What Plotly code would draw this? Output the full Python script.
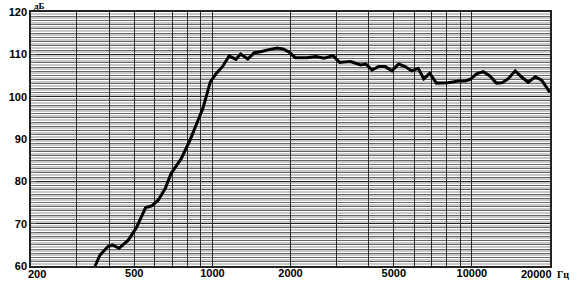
import numpy as np
import plotly.graph_objects as go

# frequency response
freq_hz = [353, 369, 396, 412, 437, 474, 510, 553, 584, 619, 658, 694, 759, 821,
           920, 982, 1035, 1097, 1160, 1232, 1285, 1369, 1450, 1533, 1620, 1771,
           1870, 1969, 2087, 2320, 2500, 2694, 2917, 3092, 3405, 3722, 3907, 4121,
           4371, 4635, 4920, 5219, 5530, 5860, 6210, 6530, 6880, 7300, 8110, 8870,
           9410, 9840, 10430, 11060, 11730, 12430, 13070, 13780, 14700, 15510,
           16470, 17570, 18560, 20000]
level_db = [60.0, 62.6, 64.6, 65.0, 64.2, 66.1, 69.1, 73.8, 74.2, 75.6, 78.3, 81.9,
            85.4, 89.8, 97.3, 103.5, 105.5, 107.2, 109.6, 108.8, 110.1, 108.9,
            110.4, 110.6, 111.0, 111.5, 111.3, 110.6, 109.2, 109.2, 109.5, 109.1,
            109.7, 108.1, 108.3, 107.5, 107.7, 106.3, 107.1, 107.1, 106.1, 107.7,
            107.1, 106.1, 106.7, 104.2, 105.5, 103.2, 103.3, 103.7, 103.7, 104.1,
            105.4, 105.9, 104.9, 103.2, 103.3, 104.2, 106.1, 104.7, 103.4, 104.7,
            103.9, 101.0]

x_ticks = [500, 1000, 2000, 5000, 10000]
x_grid = [300, 400, 500, 600, 700, 800, 900, 1000, 2000, 3000, 4000, 5000,
          6000, 7000, 8000, 9000, 10000]
y_ticks = [60, 70, 80, 90, 100, 110, 120]

X_MIN, X_MAX = 200, 20000
Y_MIN, Y_MAX = 60, 120
X_RANGE = [np.log10(X_MIN), np.log10(X_MAX)]

LABEL_FONT = dict(family="Liberation Sans, Arial, sans-serif", size=11, color="black")
UNIT_FONT = dict(family="Liberation Serif, Times New Roman, serif", size=10, color="black")

fig = go.Figure()

# dummy traces so the overlay axes (light half-dB bands, vertical grid) get drawn
fig.add_trace(go.Scatter(x=[X_MIN], y=[Y_MIN], xaxis="x", yaxis="y2", mode="markers",
                         marker=dict(opacity=0), hoverinfo="skip", showlegend=False))
fig.add_trace(go.Scatter(x=[X_MIN], y=[Y_MIN], xaxis="x2", yaxis="y3", mode="markers",
                         marker=dict(opacity=0), hoverinfo="skip", showlegend=False))

fig.add_trace(go.Scatter(
    x=freq_hz, y=level_db, mode="lines",
    line=dict(color="black", width=3),
    showlegend=False,
))

# units
fig.add_annotation(xref="paper", yref="paper", x=0.002, y=1.024,
                   xanchor="left", yanchor="middle", showarrow=False,
                   text="<b>дБ</b>", font=dict(UNIT_FONT, size=9))
fig.add_annotation(xref="paper", yref="paper", x=1.025, y=-0.035,
                   xanchor="center", yanchor="middle", showarrow=False,
                   text="<b>Гц</b>", font=UNIT_FONT)
# end frequency labels sit inside the frame edges
for f, shift in [(X_MIN, 6), (X_MAX, -14)]:
    fig.add_annotation(xref="x", yref="paper", x=np.log10(f), y=-0.032,
                       xshift=shift, xanchor="center", yanchor="middle", showarrow=False,
                       text=f"<b>{f}</b>", font=LABEL_FONT)

fig.update_layout(
    width=581, height=282,
    margin=dict(l=31, r=31, t=12, b=16),
    paper_bgcolor="white",
    plot_bgcolor="white",
    xaxis=dict(
        type="log",
        range=X_RANGE,
        tickmode="array",
        tickvals=x_ticks,
        ticktext=[f"<b>{v}</b>" for v in x_ticks],
        tickfont=LABEL_FONT,
        ticks="",
        ticklabelstandoff=-4,
        automargin=False,
        showgrid=False,
        showline=True, linecolor="#222", linewidth=1.5, mirror=True,
        zeroline=False,
    ),
    xaxis2=dict(
        type="log", overlaying="x", side="top",
        range=X_RANGE,
        tickmode="array", tickvals=x_grid,
        showticklabels=False, ticks="",
        showgrid=True, gridcolor="#2a2a2a", gridwidth=1,
        automargin=False, zeroline=False,
    ),
    yaxis=dict(
        range=[Y_MIN, Y_MAX],
        tickmode="array",
        tickvals=y_ticks,
        ticktext=[f"<b>{v}</b>" for v in y_ticks],
        tickfont=LABEL_FONT,
        ticks="inside", ticklen=5, tickcolor="#555",
        ticklabelstandoff=0,
        automargin=False,
        showgrid=True, gridcolor="#222", gridwidth=1,
        minor=dict(dtick=1, tick0=60, showgrid=True, gridcolor="#666",
                   gridwidth=1, ticks="inside", ticklen=5, tickcolor="#777"),
        showline=True, linecolor="#222", linewidth=1.5, mirror=True,
        zeroline=False,
    ),
    yaxis2=dict(
        overlaying="y", side="right",
        range=[Y_MIN, Y_MAX],
        tickmode="linear", tick0=60.5, dtick=1,
        showticklabels=False, ticks="",
        showgrid=True, gridcolor="#c8c8c8", gridwidth=2,
        automargin=False, zeroline=False,
    ),
    yaxis3=dict(
        overlaying="y", side="right",
        range=[Y_MIN, Y_MAX],
        showticklabels=False, ticks="", showgrid=False,
        automargin=False, zeroline=False,
    ),
)

# page body has a default 8px margin; drop it so the figure fills the window
fig.write_html("out.html", config={"displayModeBar": False},
               post_script="document.body.style.margin='0';")
